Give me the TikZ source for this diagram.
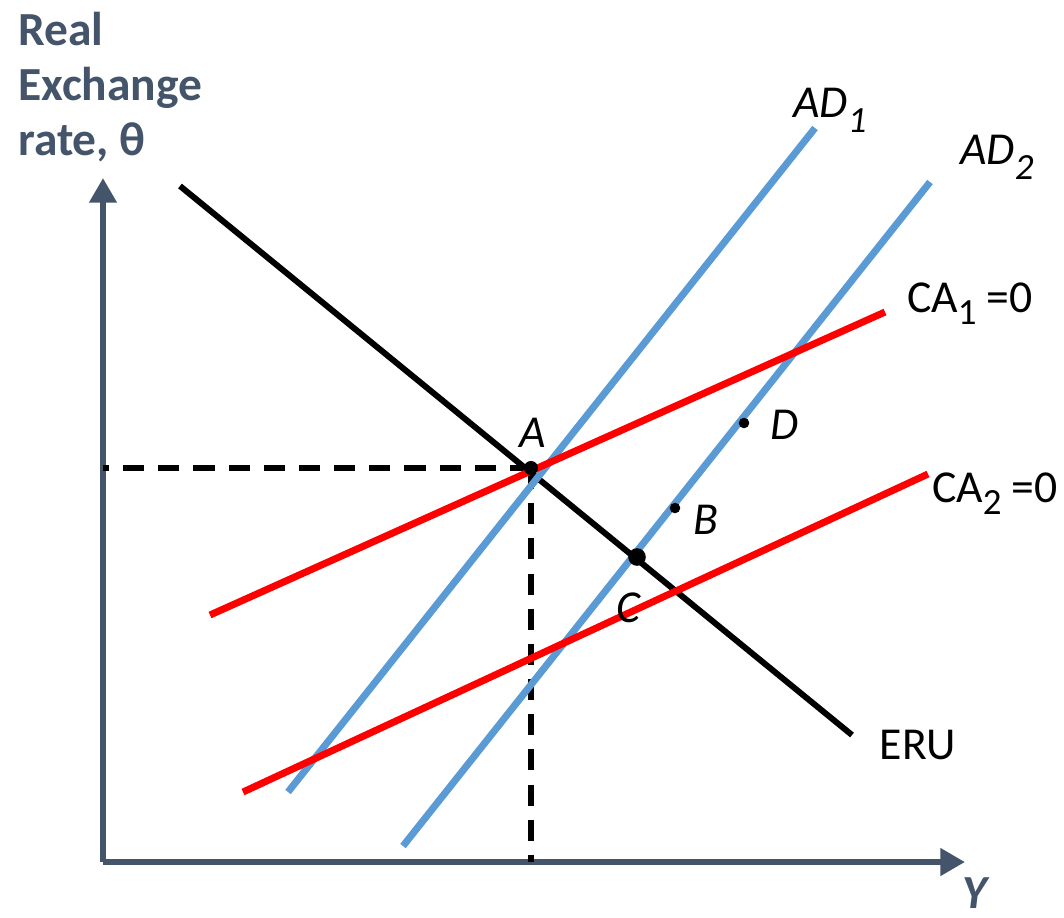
\documentclass[tikz,border=0pt]{standalone}
\usepackage{fontspec}
\setmainfont{Carlito}
\usetikzlibrary{arrows.meta, positioning}
\definecolor{cslate}{HTML}{44546A}
\definecolor{cblue}{HTML}{5B9BD5}
\definecolor{cred}{HTML}{FF0000}
\newcommand{\lowsub}[2][0.55ex]{\raisebox{-#1}{\fontsize{10.5}{12}\selectfont #2}}
\tikzset{
  every picture/.style={font=\fontsize{13}{15.6}\selectfont},
  axis/.style={draw=cslate, line width=1.8pt, -{Triangle[length=7pt, width=7.5pt]}},
  adline/.style={draw=cblue, line width=2pt},
  caline/.style={draw=cred, line width=2pt},
  eru/.style={draw=black, line width=1.7pt},
  guide/.style={draw=black, line width=1.7pt, dash pattern=on 6pt off 4pt},
  lbl/.style={inner sep=1pt},
  pt/.style={circle, fill=black, inner sep=0pt, minimum size=#1},
  pt/.default=3pt,
}

\begin{document}
\begin{tikzpicture}[x=0.01cm, y=-0.01cm]
  \useasboundingbox (0,0) rectangle (1064,917);
  % axes
  \coordinate (O) at (103,862);
  \coordinate (ytip) at (103,178);
  \coordinate (xtip) at (965,862);
  \draw[axis] (O) -- (ytip);
  \draw[axis] (O) -- (xtip);
  \node[lbl, anchor=north west, align=left, text=cslate, font=\fontsize{13.5}{15.6}\selectfont\bfseries] (ylab) at (14,8) {Real\\Exchange\\rate, θ};
  \node[lbl, text=cslate, font=\fontsize{13.5}{15.6}\selectfont\bfseries\itshape] (xlab) at (975,893) {Y};
  % curve end points
  \coordinate (eru0) at (180,186);  \coordinate (eru1) at (852,735);
  \coordinate (adA0) at (288,792);  \coordinate (adA1) at (815,128);
  \coordinate (adB0) at (403,846);  \coordinate (adB1) at (930,182);
  \coordinate (caA0) at (210,615);  \coordinate (caA1) at (885,312);
  \coordinate (caB0) at (243,792);  \coordinate (caB1) at (928,474);
  % equilibrium guides
  \coordinate (ptA) at (531,468);
  \coordinate (yA) at (103,468);
  \coordinate (xA) at (531,862);
  \draw[guide] (ptA) -- (yA);
  \draw[guide] (ptA) -- (xA);
  % curves
  \draw[eru] (eru0) -- (eru1);
  \draw[adline] (adA0) -- (adA1);
  \draw[adline] (adB0) -- (adB1);
  \draw[caline] (caA0) -- (caA1);
  \draw[caline] (caB0) -- (caB1);
  % points
  \node[pt=4pt] (dotA) at (ptA) {};
  \node[pt=5pt] (dotC) at (637,557) {};
  \node[pt] (dotB) at (675,508) {};
  \node[pt] (dotD) at (744,423) {};
  \node[lbl, font=\fontsize{13}{15.6}\selectfont\itshape] (labA) at (533,433) {A};
  \node[lbl, font=\fontsize{13}{15.6}\selectfont\itshape] (labB) at (706,520) {B};
  \node[lbl, font=\fontsize{13}{15.6}\selectfont\itshape] (labC) at (628,608) {C};
  \node[lbl, font=\fontsize{13}{15.6}\selectfont\itshape] (labD) at (785,425) {D};
  % curve labels
  \node[lbl] (labERU) at (918,745) {ERU};
  \node[lbl, font=\fontsize{13}{15.6}\selectfont\itshape] (labAD1) at (830,110) {AD\lowsub[0.7ex]{1}};
  \node[lbl, font=\fontsize{13}{15.6}\selectfont\itshape] (labAD2) at (997,157) {AD\lowsub[0.7ex]{2}};
  \node[lbl] (labCA1) at (970,304) {CA\lowsub{1} =0};
  \node[lbl] (labCA2) at (995,494) {CA\lowsub{2} =0};
\end{tikzpicture}
\end{document}
